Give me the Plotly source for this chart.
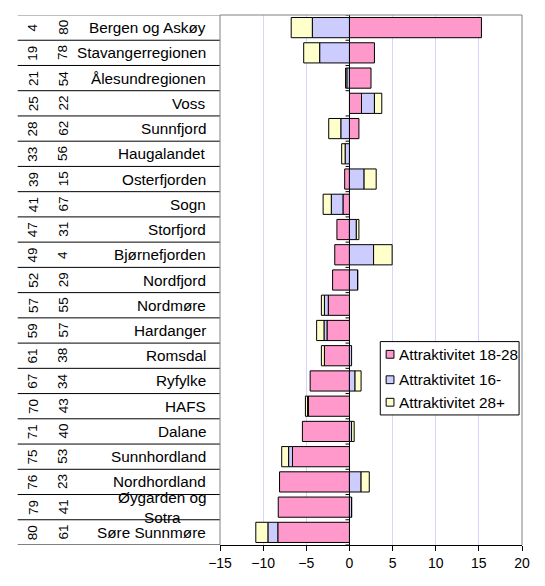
import plotly.graph_objects as go

regions = ["Bergen og Askøy", "Stavangerregionen", "Ålesundregionen", "Voss", "Sunnfjord",
           "Haugalandet", "Osterfjorden", "Sogn", "Storfjord", "Bjørnefjorden", "Nordfjord",
           "Nordmøre", "Hardanger", "Romsdal", "Ryfylke", "HAFS", "Dalane", "Sunnhordland",
           "Nordhordland", "Øygarden og Sotra", "Søre Sunnmøre"]
region_labels = [r if r != "Øygarden og Sotra" else "Øygarden og<br>Sotra" for r in regions]
rank1 = [4, 19, 21, 25, 28, 33, 39, 41, 47, 49, 52, 57, 59, 61, 67, 70, 71, 75, 76, 79, 80]
rank2 = [80, 78, 54, 22, 62, 56, 15, 67, 31, 4, 29, 55, 57, 38, 34, 43, 40, 53, 23, 41, 61]

attr_18_28 = [15.3, 2.9, 2.5, 1.4, 1.1, 0.0, -0.55, -0.75, -1.45, -1.7, -1.95, -2.45, -2.6,
              -2.9, -4.55, -4.75, -5.45, -6.6, -8.1, -8.25, -8.3]
attr_16 = [-4.3, -3.45, -0.3, 1.5, -1.0, -0.5, 1.7, -1.35, 0.8, 2.8, 0.95, -0.45, -0.35,
           0.25, 0.65, -0.1, 0.25, -0.45, 1.35, 0.25, -1.15]
attr_28 = [-2.45, -1.85, -0.15, 0.85, -1.4, -0.4, 1.4, -0.95, 0.3, 2.15, 0.0, -0.35, -0.85,
           -0.35, 0.7, -0.25, 0.3, -0.8, 0.95, 0.0, -1.4]

series_names = ["Attraktivitet 18-28", "Attraktivitet 16-", "Attraktivitet 28+"]
series_values = [attr_18_28, attr_16, attr_28]
series_colors = ["#FF99CC", "#CCCCFF", "#FFFFCC"]

FONT = "Liberation Sans, Arial, sans-serif"
OFF = 8  # default page body margin
W, H = 545 - 2 * OFF, 586 - 2 * OFF
# plot area in screen pixels: x 220..529, y 15..557
ML = 220 - OFF
MR = W - (529 - OFF)
MT = 15 - OFF
MB = H - (557 - OFF)
PW = W - ML - MR
PH = H - MT - MB

def px2x(px):
    return (px - OFF - ML) / PW

def px2y(py):
    return (H - MB - (py - OFF)) / PH

fig = go.Figure()
for name, vals, col in zip(series_names, series_values, series_colors):
    fig.add_trace(go.Bar(
        y=regions, x=vals, orientation="h", name=name,
        marker=dict(color=col, line=dict(color="black", width=1)),
    ))

n = len(regions)
shapes = []
for k in range(n + 1):
    yb = k - 0.5
    shapes.append(dict(type="line", xref="paper", yref="y", x0=px2x(13), x1=0,
                       y0=yb, y1=yb, line=dict(color="#808080" if k == 0 else "black", width=1)))
    shapes.append(dict(type="line", xref="x", yref="y", x0=-0.45, x1=0,
                       y0=yb, y1=yb, line=dict(color="black", width=1)))
shapes.append(dict(type="line", xref="paper", yref="paper", x0=0, x1=1, y0=1, y1=1,
                   line=dict(color="#808080", width=1)))
shapes.append(dict(type="line", xref="paper", yref="paper", x0=0, x1=0, y0=0, y1=1,
                   line=dict(color="#808080", width=1)))
shapes.append(dict(type="line", xref="paper", yref="paper", x0=1, x1=1, y0=0, y1=1,
                   line=dict(color="#808080", width=1)))

annotations = []
for i in range(n):
    annotations.append(dict(xref="paper", yref="y", x=px2x(28.5), y=regions[i],
                            text=str(rank1[i]), textangle=-90, showarrow=False,
                            font=dict(family=FONT, size=13.5, color="black"),
                            xanchor="center", yanchor="middle"))
    annotations.append(dict(xref="paper", yref="y", x=px2x(59.5), y=regions[i],
                            text=str(rank2[i]), textangle=-90, showarrow=False,
                            font=dict(family=FONT, size=13.5, color="black"),
                            xanchor="center", yanchor="middle"))
    annotations.append(dict(xref="paper", yref="y", x=px2x(208), y=regions[i],
                            text=region_labels[i], showarrow=False, align="center",
                            font=dict(family=FONT, size=15.3, color="black"),
                            xanchor="right", yanchor="middle"))

# custom legend (box, swatches, labels)
shapes.append(dict(type="rect", xref="paper", yref="paper", x0=px2x(384), x1=px2x(526),
                   y0=px2y(424), y1=px2y(349), fillcolor="white",
                   line=dict(color="black", width=1), layer="above"))
leg_y = [362, 388, 411]
for name, col, yy in zip(series_names, series_colors, leg_y):
    shapes.append(dict(type="rect", xref="paper", yref="paper", x0=px2x(390), x1=px2x(398),
                       y0=px2y(yy + 4), y1=px2y(yy - 4), fillcolor=col,
                       line=dict(color="black", width=1), layer="above"))
    annotations.append(dict(xref="paper", yref="paper", x=px2x(401), y=px2y(yy),
                            text=name, showarrow=False, xanchor="left", yanchor="middle",
                            font=dict(family=FONT, size=15.3, color="black")))

fig.update_layout(
    width=W, height=H,
    margin=dict(l=ML, r=MR, t=MT, b=MB, pad=0),
    paper_bgcolor="white", plot_bgcolor="white",
    barmode="relative", bargap=0.2,
    font=dict(family=FONT, size=14, color="black"),
    showlegend=False,
    shapes=shapes, annotations=annotations,
)
fig.update_xaxes(range=[-15, 20], dtick=5, tick0=0, showgrid=True, gridcolor="#D4D4FF",
                 gridwidth=1, zeroline=True, zerolinecolor="black", zerolinewidth=1,
                 showline=True, linecolor="black", linewidth=1,
                 ticks="outside", ticklen=5, tickcolor="black",
                 tickfont=dict(family=FONT, size=14, color="black"))
fig.update_yaxes(categoryorder="array", categoryarray=regions, range=[n - 0.5, -0.5],
                 showticklabels=False, showgrid=False, zeroline=False, showline=False,
                 ticks="")

fig.write_html("out.html")
